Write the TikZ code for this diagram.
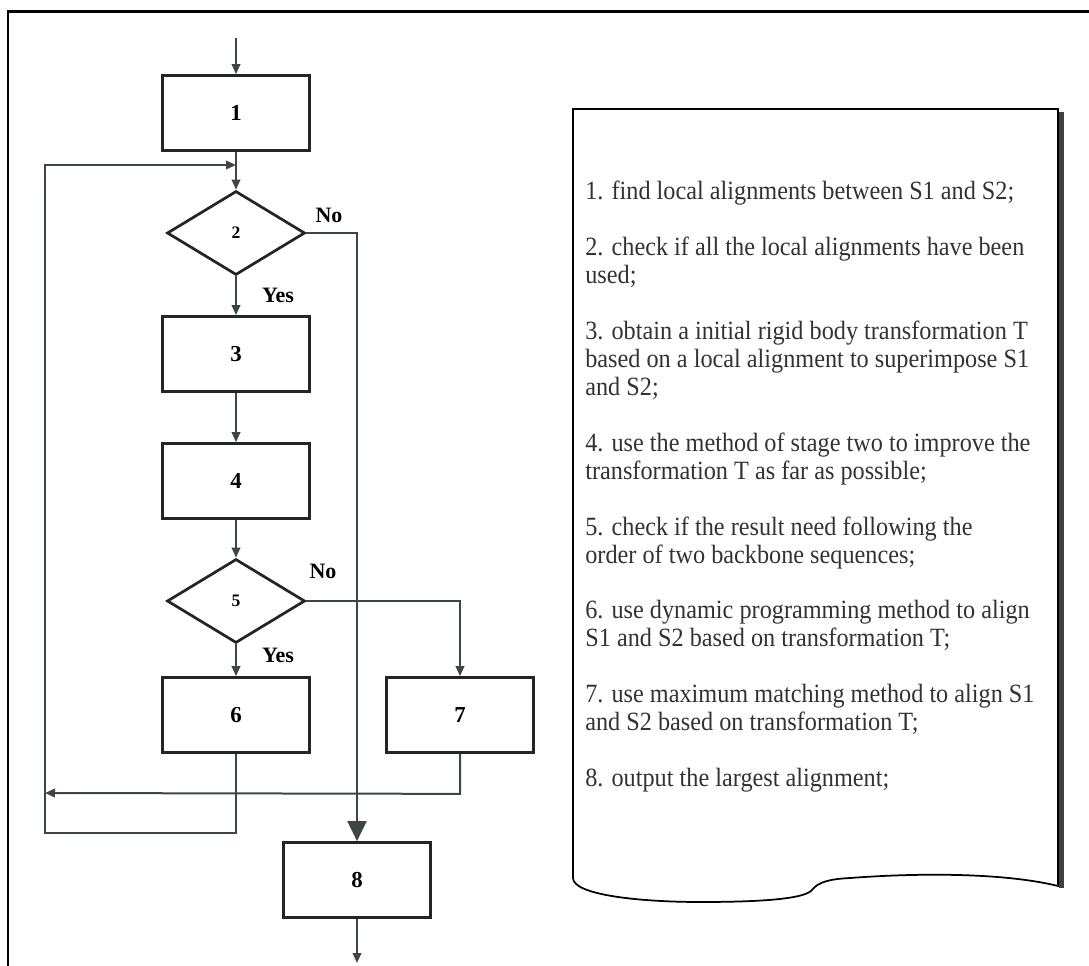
\documentclass[tikz,border=0pt]{standalone}
\usepackage{fontspec}
\setmainfont{Liberation Serif}
\newfontfamily\notefont[FakeStretch=0.92]{Liberation Serif}
\usepackage{tikz}
\usetikzlibrary{arrows.meta,positioning,shapes.geometric}
\definecolor{linegray}{RGB}{62,70,64}
\definecolor{boxline}{RGB}{35,38,36}
\definecolor{textgray}{RGB}{50,50,50}
\tikzset{
  procbox/.style={rectangle,draw=boxline,line width=0.055cm,minimum width=2.94cm,minimum height=1.5cm,
                  inner sep=0pt,font=\fontsize{13}{14}\selectfont\bfseries},
  decbox/.style={diamond,draw=boxline,line width=0.055cm,minimum width=2.76cm,minimum height=1.68cm,
                 inner sep=0pt,font=\fontsize{10}{11}\selectfont\bfseries},
  arr/.style={-{Triangle[length=0.2cm,width=0.17cm]},draw=linegray,line width=0.04cm},
  bigarr/.style={-{Triangle[length=0.4cm,width=0.38cm]},draw=linegray,line width=0.04cm},
  yesno/.style={font=\fontsize{12.5}{13}\selectfont\bfseries}
}

\begin{document}
\begin{tikzpicture}[x=0.02cm,y=-0.02cm]
  \useasboundingbox (0,0) rectangle (1089,966);
  % outer frame
  \draw[line width=0.06cm] (1089,12) -- (8,12) -- (8,966);

  % flowchart
  \node[procbox] (b1) at (236,113) {1};
  \node[decbox]  (d2) at (236,233) {2};
  \node[procbox] (b3) at (236,354) {3};
  \node[procbox] (b4) at (236,481) {4};
  \node[decbox]  (d5) at (236,601) {5};
  \node[procbox] (b6) at (236,715) {6};
  \node[procbox] (b7) at (460,715) {7};
  \node[procbox] (b8) at (357,880) {8};

  \coordinate (entry) at (236,38);
  \coordinate (exit) at (357,963);
  \coordinate (merge) at (236,165);
  \coordinate (loopTL) at (45,165);
  \coordinate (backL) at (45,793);

  \node[yesno] (no2) at (329,215) {No};
  \node[yesno] (yes2) at (278,295) {Yes};
  \node[yesno] (no5) at (323,571) {No};
  \node[yesno] (yes5) at (278,655) {Yes};

  \draw[arr] (entry) -- (b1);
  \draw[arr] (b1) -- (d2);
  \draw[arr] (d2) -- (b3);
  \draw[arr] (b3) -- (b4);
  \draw[arr] (b4) -- (d5);
  \draw[arr] (d5) -- (b6);
  \draw[arr] (d5.east) -| (b7.north);
  \draw[bigarr] (d2.east) -| (b8.north);
  \draw[arr] (b8) -- (exit);
  % loops back
  \draw[arr] (b6.south) -- ++(0,79) -| (loopTL) -- (merge);
  \draw[arr] (b7.south) -- ++(0,40) -- (backL);

  % step list
  \draw[line width=0.035cm] (573,109) -- (573,878)
    .. controls (573,895) and (640,902) .. (700,902)
    .. controls (770,902) and (805,898) .. (812,890)
    .. controls (818,882) and (830,879) .. (850,878)
    .. controls (930,872) and (1010,874) .. (1058,886) -- (1058,109) -- cycle;
  \draw[line width=0.1cm,draw=black!75] (1061,112) -- (1061,888);
  \node[anchor=north west,inner sep=0pt,align=left,text=textgray,
        font=\notefont\fontsize{15}{15.9}\selectfont] (steps) at (585,181)
      {1. find local alignments between S1 and S2;\\[15.9pt]
       2. check if all the local alignments have been\\
       used;\\[15.9pt]
       3. obtain a initial rigid body transformation T\\
       based on a local alignment to superimpose S1\\
       and S2;\\[15.9pt]
       4. use the method of stage two to improve the\\
       transformation T as far as possible;\\[15.9pt]
       5. check if the result need following the\\
       order of two backbone sequences;\\[15.9pt]
       6. use dynamic programming method to align\\
       S1 and S2 based on transformation T;\\[15.9pt]
       7. use maximum matching method to align S1\\
       and S2 based on transformation T;\\[15.9pt]
       8. output the largest alignment;};
\end{tikzpicture}
\end{document}
